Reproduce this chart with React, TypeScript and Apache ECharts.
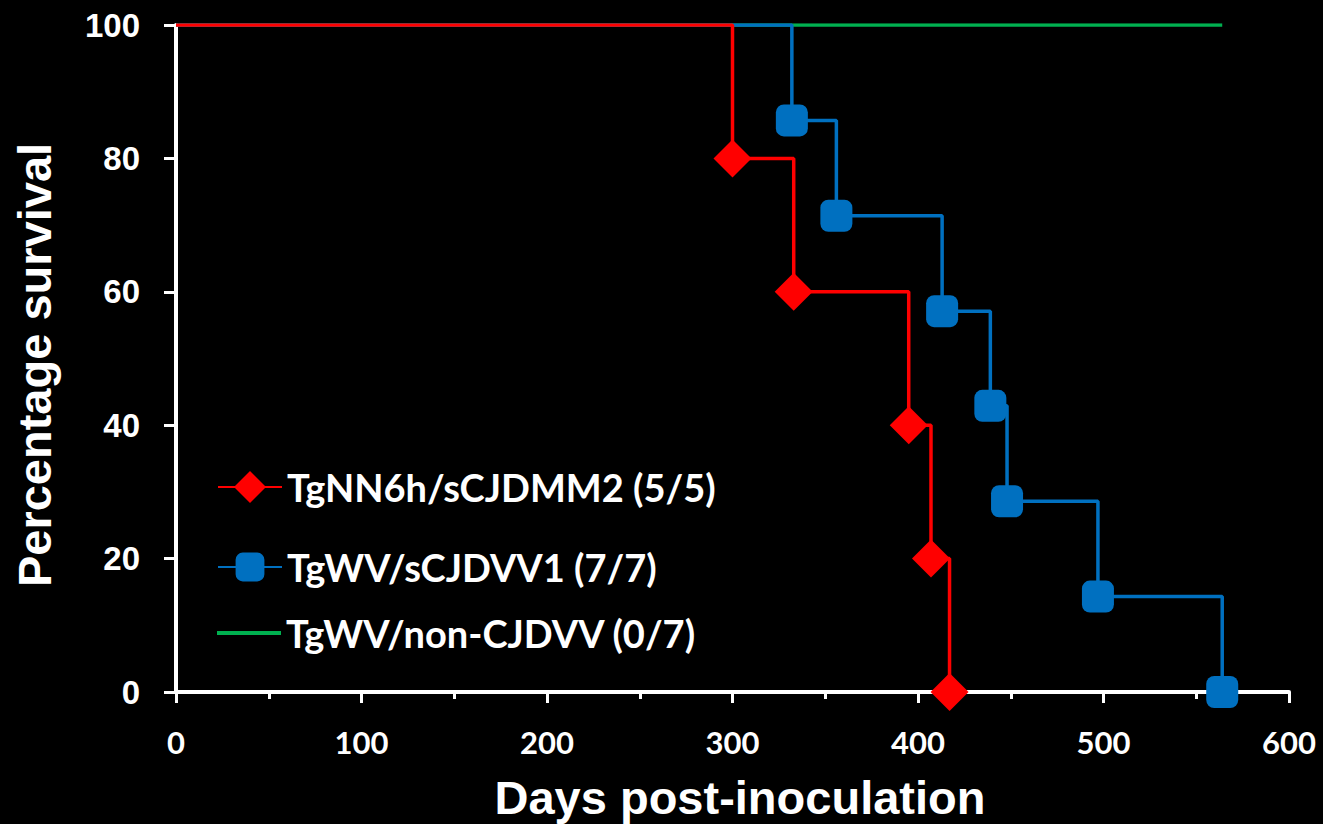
import React, { useEffect, useRef } from "react";
import * as echarts from "echarts";

const redName = "TgNN6h/sCJDMM2 (5/5)";
const blueName = "TgWV/sCJDVV1 (7/7)";
const greenName = "TgWV/non-CJDVV (0/7)";

const redDays = [0, 300, 333, 395, 407, 417];
const redSurvival = [100, 80, 60, 40, 20, 0];

const blueDays = [0, 332, 356, 413, 439, 448, 497, 564];
const blueSurvival = [100, 85.7, 71.4, 57.1, 42.9, 28.6, 14.3, 0];

const greenDays = [0, 564];
const greenSurvival = [100, 100];

const xTicks = [0, 600, 100];
const yTicks = [0, 100, 20];

const RED = "#ff0000";
const BLUE = "#0070c0";
const GREEN = "#00b050";

function toData(days: number[], vals: number[]) {
  return days.map((d, i) =>
    i === 0 ? { value: [d, vals[i]], symbol: "none" } : { value: [d, vals[i]] }
  );
}

export default function App() {
  const ref = useRef<HTMLDivElement>(null);
  useEffect(() => {
    if (!ref.current) return;
    const chart = echarts.init(ref.current, null, { renderer: "svg" });
    const legendText = {
      color: "#fff",
      fontFamily: "Lato",
      fontWeight: "bold",
      fontSize: 38,
      lineHeight: 44,
      padding: [0, 0, 0, 0],
    };
    const mkLegend = (name: string, top: number, extra: any = {}) => ({
      data: [name],
      left: 217,
      top,
      orient: "vertical",
      itemWidth: 64,
      itemHeight: 38,
      itemGap: 0,
      padding: 0,
      selectedMode: false,
      textStyle: legendText,
      ...extra,
    });
    chart.setOption({
      animation: false,
      backgroundColor: "#000",
      grid: { left: 176, right: 34, top: 25, bottom: 132, containLabel: false },
      legend: [
        mkLegend(redName, 465, { itemHeight: 40 }),
        mkLegend(blueName, 545, { itemHeight: 36 }),
        mkLegend(greenName, 611, { icon: "rect", itemHeight: 4, itemStyle: { color: GREEN } }),
      ],
      xAxis: {
        type: "value",
        min: xTicks[0],
        max: xTicks[1],
        interval: xTicks[2],
        axisLine: { show: true, onZero: false, lineStyle: { color: "#fff", width: 4 } },
        axisTick: { show: true, inside: false, length: 11, lineStyle: { color: "#fff", width: 3 } },
        minorTick: { show: true, splitNumber: 2, length: 7, lineStyle: { color: "#fff", width: 3 } },
        splitLine: { show: false },
        axisLabel: {
          color: "#fff",
          fontFamily: "Lato",
          fontWeight: "bold",
          fontSize: 31,
          margin: 34,
        },
      },
      yAxis: {
        type: "value",
        min: yTicks[0],
        max: yTicks[1],
        interval: yTicks[2],
        axisLine: { show: true, onZero: false, lineStyle: { color: "#fff", width: 4 } },
        axisTick: { show: true, inside: false, length: 12, lineStyle: { color: "#fff", width: 3 } },
        splitLine: { show: false },
        axisLabel: {
          color: "#fff",
          fontFamily: "Liberation Sans",
          fontWeight: "bold",
          fontSize: 33,
          margin: 36,
        },
      },
      graphic: [
        {
          type: "text",
          x: 34,
          y: 365,
          rotation: Math.PI / 2,
          style: {
            text: "Percentage survival",
            fill: "#fff",
            font: "bold 47px 'Liberation Sans'",
            align: "center",
            verticalAlign: "middle",
            textAlign: "center",
            textVerticalAlign: "middle",
          },
        },
        {
          type: "text",
          x: 740,
          y: 797,
          style: {
            text: "Days post-inoculation",
            fill: "#fff",
            font: "bold 47px 'Liberation Sans'",
            align: "center",
            verticalAlign: "middle",
            textAlign: "center",
            textVerticalAlign: "middle",
          },
        },
      ],
      series: [
        {
          name: greenName,
          type: "line",
          step: "end",
          data: toData(greenDays, greenSurvival),
          showSymbol: false,
          symbol: "none",
          lineStyle: { color: GREEN, width: 3.5 },
          itemStyle: { color: GREEN },
        },
        {
          name: blueName,
          type: "line",
          step: "end",
          data: toData(blueDays, blueSurvival),
          symbol: "roundRect",
          symbolSize: 32,
          showAllSymbol: true,
          lineStyle: { color: BLUE, width: 3.5 },
          itemStyle: { color: BLUE },
        },
        {
          name: redName,
          type: "line",
          step: "end",
          data: toData(redDays, redSurvival),
          symbol: "diamond",
          symbolSize: 38,
          showAllSymbol: true,
          lineStyle: { color: RED, width: 3.5 },
          itemStyle: { color: RED },
        },
      ],
    });
    return () => chart.dispose();
  }, []);
  return <div ref={ref} style={{ width: 1323, height: 824, position: "absolute", left: 0, top: 0 }} />;
}
